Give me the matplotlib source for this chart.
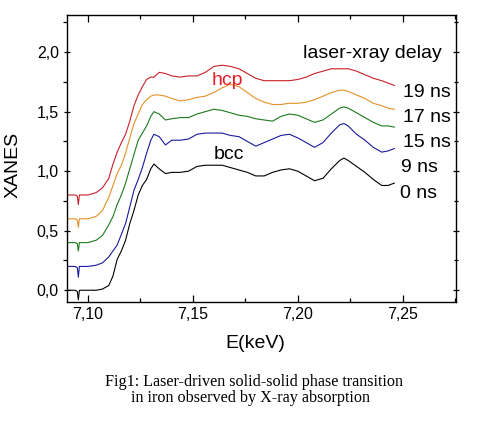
import matplotlib
matplotlib.use("Agg")
import matplotlib.pyplot as plt
from matplotlib.ticker import MultipleLocator, FuncFormatter

plt.rcParams['font.family'] = ['Liberation Sans', 'DejaVu Sans']

energy = [7.090, 7.094, 7.0950, 7.0955, 7.0960, 7.100, 7.104, 7.107, 7.110, 7.112,
          7.114, 7.116, 7.118, 7.120, 7.122, 7.124, 7.126, 7.128, 7.130, 7.1315,
          7.134, 7.137, 7.140, 7.144, 7.148, 7.152, 7.156, 7.160, 7.164, 7.168,
          7.172, 7.176, 7.180, 7.184, 7.188, 7.192, 7.196, 7.200, 7.204, 7.208,
          7.212, 7.216, 7.220, 7.222, 7.224, 7.228, 7.232, 7.236, 7.240, 7.243, 7.246]

xanes_0ns = [0.00, 0.00, -0.01, -0.08, 0.00, 0.00, 0.00, 0.01, 0.04, 0.12,
             0.26, 0.33, 0.42, 0.56, 0.67, 0.80, 0.88, 0.93, 1.02, 1.06,
             1.02, 0.98, 0.99, 0.99, 1.00, 1.04, 1.05, 1.05, 1.05, 1.03,
             1.01, 0.99, 0.96, 0.96, 0.99, 1.01, 1.02, 1.00, 0.96, 0.92,
             0.94, 1.02, 1.09, 1.11, 1.09, 1.04, 0.99, 0.93, 0.88, 0.88, 0.90]

xanes_9ns = [0.20, 0.20, 0.19, 0.11, 0.20, 0.20, 0.21, 0.23, 0.28, 0.33,
             0.38, 0.47, 0.56, 0.70, 0.84, 0.93, 1.03, 1.15, 1.26, 1.31,
             1.29, 1.22, 1.26, 1.26, 1.27, 1.31, 1.32, 1.32, 1.32, 1.30,
             1.29, 1.25, 1.21, 1.24, 1.27, 1.30, 1.31, 1.28, 1.24, 1.20,
             1.24, 1.32, 1.39, 1.40, 1.38, 1.31, 1.26, 1.20, 1.16, 1.17, 1.19]

xanes_15ns = [0.40, 0.40, 0.39, 0.33, 0.40, 0.40, 0.42, 0.46, 0.55, 0.62,
              0.72, 0.80, 0.90, 1.02, 1.14, 1.26, 1.32, 1.38, 1.46, 1.50,
              1.48, 1.43, 1.44, 1.45, 1.45, 1.48, 1.50, 1.52, 1.51, 1.49,
              1.47, 1.46, 1.44, 1.43, 1.42, 1.46, 1.48, 1.47, 1.44, 1.41,
              1.43, 1.48, 1.53, 1.54, 1.53, 1.49, 1.45, 1.41, 1.38, 1.38, 1.37]

xanes_17ns = [0.60, 0.60, 0.59, 0.53, 0.60, 0.60, 0.62, 0.67, 0.78, 0.88,
              0.98, 1.05, 1.15, 1.28, 1.40, 1.48, 1.56, 1.60, 1.63, 1.64,
              1.64, 1.63, 1.61, 1.59, 1.60, 1.62, 1.63, 1.66, 1.70, 1.73,
              1.71, 1.66, 1.61, 1.58, 1.56, 1.56, 1.57, 1.57, 1.58, 1.60,
              1.63, 1.66, 1.68, 1.68, 1.67, 1.64, 1.61, 1.57, 1.55, 1.53, 1.52]

xanes_19ns = [0.80, 0.80, 0.79, 0.72, 0.80, 0.80, 0.82, 0.86, 0.94, 1.06,
              1.16, 1.24, 1.31, 1.42, 1.55, 1.64, 1.71, 1.77, 1.79, 1.79,
              1.83, 1.82, 1.80, 1.79, 1.80, 1.80, 1.83, 1.88, 1.89, 1.88,
              1.86, 1.82, 1.78, 1.76, 1.76, 1.76, 1.76, 1.77, 1.79, 1.82,
              1.84, 1.86, 1.86, 1.86, 1.86, 1.84, 1.81, 1.78, 1.76, 1.74, 1.72]

series = [xanes_0ns, xanes_9ns, xanes_15ns, xanes_17ns, xanes_19ns]
delay_labels = ["0 ns", "9 ns", "15 ns", "17 ns", "19 ns"]
colors = ["#000000", "#1a1a9c", "#1c7a1c", "#e3912a", "#c8202a"]

fig = plt.figure(figsize=(4.79, 4.22), dpi=100)
ax = fig.add_axes([0.139, 0.284, 0.814, 0.680])

for ys, c in zip(series, colors):
    ax.plot(energy, ys, color=c, lw=0.8)

ax.set_xlim(7.0899, 7.2756)
ax.set_ylim(-0.10, 2.31)

ax.xaxis.set_major_locator(MultipleLocator(0.05))
ax.xaxis.set_minor_locator(MultipleLocator(0.025))
ax.yaxis.set_major_locator(MultipleLocator(0.5))
ax.yaxis.set_minor_locator(MultipleLocator(0.25))
ax.xaxis.set_major_formatter(FuncFormatter(lambda v, p: f"{v:.2f}".replace('.', ',')))
ax.yaxis.set_major_formatter(FuncFormatter(lambda v, p: f"{v:.1f}".replace('.', ',')))

ax.tick_params(which='both', top=True, right=True, direction='in', labelsize=11.5, width=0.9)
ax.tick_params(axis='y', which='both', left=True, direction='inout')
ax.tick_params(which='major', length=5)
ax.tick_params(which='minor', length=3)
for s in ax.spines.values():
    s.set_linewidth(1.0)

# left ticks outward only
for t in ax.yaxis.get_major_ticks() + ax.yaxis.get_minor_ticks():
    t.tick1line.set_marker(matplotlib.lines.TICKLEFT)
ax.tick_params(axis='y', pad=3)

fs = 14
ax.text(7.2024, 1.986, "laser-xray delay", fontsize=fs, va='center', ha='left')
label_y = [0.816, 1.034, 1.244, 1.454, 1.664]
label_x = [7.2486, 7.2494, 7.2500, 7.2500, 7.2500]
for lx, ly, lab in zip(label_x, label_y, delay_labels):
    ax.text(lx, ly, lab, fontsize=fs, va='center', ha='left')
ax.text(7.1589, 1.765, "hcp", fontsize=fs, va='center', ha='left', color="#e8202a")
ax.text(7.1600, 1.141, "bcc", fontsize=fs, va='center', ha='left', color="black")

fig.text(13 / 479, 1 - 165 / 422, "XANES", rotation=90, fontsize=14, va='center', ha='center')
fig.text(255 / 479, 1 - 343 / 422, "E(keV)", fontsize=14, va='center', ha='center')

fig.text(253.8 / 479, 1 - 381.7 / 422, "Fig1: Laser-driven solid-solid phase transition",
         fontsize=11.6, family=['Liberation Serif', 'DejaVu Serif'], va='center', ha='center')
fig.text(250 / 479, 1 - 398 / 422, "in iron observed by X-ray absorption",
         fontsize=11.6, family=['Liberation Serif', 'DejaVu Serif'], va='center', ha='center')

fig.savefig("out.png", dpi=100)
